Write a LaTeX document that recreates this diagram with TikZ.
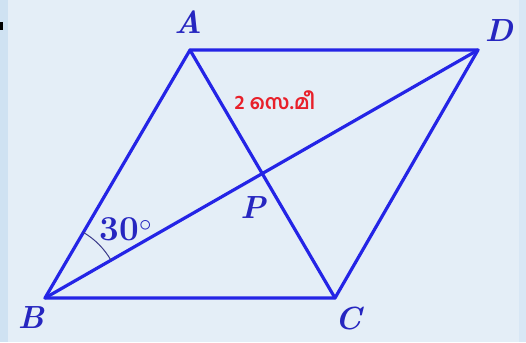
\documentclass[tikz,border=0pt]{standalone}
\usepackage{fontspec}
\newfontfamily\mlfont[Script=Malayalam]{Hind Kochi}
\definecolor{bgc}{HTML}{E4EEF7}
\definecolor{strip}{HTML}{CFE2F2}
\definecolor{rstrip}{HTML}{D8E7F5}
\definecolor{lineblue}{HTML}{2424E6}
\definecolor{labblue}{HTML}{2626C0}
\definecolor{arcc}{HTML}{3A3A8A}
\definecolor{redt}{HTML}{E8202A}
\tikzset{
  edge/.style={draw=lineblue, line width=3.2pt, line join=round, line cap=round},
  vlabel/.style={text=labblue, font=\fontsize{32}{34}\selectfont\bfseries\itshape, inner sep=0pt},
}
\begin{document}
\begin{tikzpicture}[x=1pt,y=-1pt]
\fill[bgc] (0,0) rectangle (526,342);
\fill[strip] (0,0) rectangle (8,342);
\fill[rstrip] (519,0) rectangle (526,342);
\fill[black] (0,22) rectangle (3,30);
\useasboundingbox (0,0) rectangle (526,342);
\coordinate (A) at (190,50);
\coordinate (D) at (478,50);
\coordinate (B) at (45,298);
\coordinate (C) at (335,298);
\draw[edge] (A) -- (D) -- (C) -- (B) -- cycle;
\draw[edge] (A) -- (C);
\draw[edge] (B) -- (D);
\draw[arcc, line width=1pt] (B) ++(-59.7:76) arc[start angle=-59.7, end angle=-29.8, radius=76];
\node[vlabel] (lA) at (188,22) {A};
\node[vlabel] (lD) at (499,31) {D};
\node[vlabel] (lB) at (31,318) {B};
\node[vlabel] (lC) at (348,319) {C};
\node[vlabel] (lP) at (253,208) {P};
\node[text=labblue, font=\fontsize{35}{38}\selectfont\bfseries, inner sep=0pt] (ang) at (126,229) {30$^\circ$};
\node[text=redt, font=\mlfont\fontsize{20}{22}\selectfont\bfseries, inner sep=0pt] (len) at (275,100) {2 സെ.മീ};
\end{tikzpicture}
\end{document}
